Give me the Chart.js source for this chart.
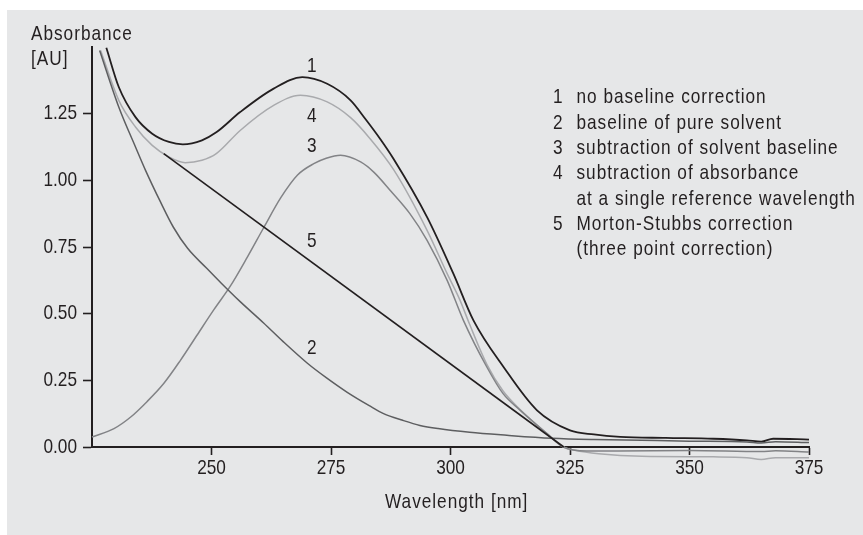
<!DOCTYPE html>
<html><head><meta charset="utf-8">
<script src="https://cdn.jsdelivr.net/npm/chart.js@4"></script>
<style>
html,body{margin:0;padding:0;background:#fff;}
#wrap{position:absolute;left:0;top:0;width:863px;height:535px;}
#panel{position:absolute;left:7px;top:10px;width:856px;height:525px;background:#e6e7e8;}
canvas{position:absolute;left:0;top:0;}
</style></head>
<body><div id="wrap"><div id="panel"></div><canvas id="c" width="863" height="535"></canvas></div>
<script>
// ---- data ----
const wl1 = [228,230.6,234.1,237.6,241.1,244,248,251,256,263,269,274.2,279.1,282.2,285.3,288.1,295.1,300.6,304.8,311.1,318.1,325,330,335.5,345,355,362,365,367.5,375];
const abs1 = [1.497,1.35,1.237,1.175,1.144,1.135,1.15,1.18,1.256,1.344,1.387,1.362,1.30,1.23,1.155,1.08,0.862,0.65,0.475,0.30,0.1375,0.0625,0.047,0.038,0.034,0.031,0.025,0.02,0.031,0.028];

const wl2 = [226.6,230.6,234.1,236.2,239.3,242,245,249,252,256,260.9,265,270,274,278.4,283,286,290,293.6,297.4,304,311.8,321.2,330,340,350,362,365,368,375];
const abs2 = [1.487,1.275,1.125,1.0375,0.92,0.825,0.745,0.67,0.615,0.545,0.465,0.395,0.315,0.26,0.205,0.155,0.125,0.10,0.081,0.069,0.055,0.044,0.033,0.028,0.025,0.022,0.019,0.015,0.02,0.0165];

const wl3 = [225,229.6,233.1,236.5,240,243.5,247,250.5,254,257.5,261,264.5,268,271.4,274,277,281.2,284,287.5,291.5,295.1,299.3,302.7,307.6,311,314.6,320.2,323.6,328.5,335,350,365,368,375];
const abs3 = [0.0375,0.069,0.1125,0.17,0.238,0.325,0.42,0.515,0.605,0.712,0.825,0.935,1.02,1.0625,1.083,1.094,1.069,1.03,0.96,0.875,0.775,0.625,0.475,0.30,0.20,0.1375,0.05,0.0,-0.015,-0.015,-0.013,-0.017,-0.014,-0.019];

const wl4 = [226.8,230.6,234.1,237.6,241.1,244.5,248,251,256,263,268.6,274.2,279.1,283,288.1,295.1,299.3,302,304,307.6,311,314.6,320.2,323.6,326,331,340,355,362,365,368,375];
const abs4 = [1.487,1.3,1.2,1.131,1.0875,1.066,1.075,1.1,1.187,1.281,1.319,1.294,1.235,1.16,1.04,0.8125,0.65,0.55,0.46,0.31,0.21,0.14,0.05,0.0,-0.012,-0.025,-0.035,-0.037,-0.04,-0.047,-0.04,-0.04];

const wl5 = [240, 323.7];
const abs5 = [1.10, 0.0];

const xTicks = [250, 275, 300, 325, 350, 375];
const yTicks = [0, 0.25, 0.5, 0.75, 1.0, 1.25];

const curveLabels = ['1', '4', '3', '5', '2'];
const labelWl = [270.96, 270.96, 270.96, 270.96, 270.96];
const labelAbs = [1.428, 1.241, 1.128, 0.772, 0.372];

const legendNums = ['1', '2', '3', '4', '', '5', ''];
const legendTexts = ['no baseline correction', 'baseline of pure solvent', 'subtraction of solvent baseline',
  'subtraction of absorbance', 'at a single reference wavelength', 'Morton-Stubbs correction', '(three point correction)'];

const yTitle = ['Absorbance', '[AU]'];
const xTitle = 'Wavelength [nm]';

// ---- styles ----
const INK = '#231f20';
const FONT = "'Liberation Sans', Arial, sans-serif";
const NARROW = 0.82; // condensed look
const toPts = (xs, ys) => xs.map((v, i) => ({x: v, y: ys[i]}));

function ds(label, xs, ys, color, w) {
  return {label, data: toPts(xs, ys), borderColor: color, borderWidth: w, pointRadius: 0,
    cubicInterpolationMode: 'monotone', fill: false, clip: false};
}

const canvas = document.getElementById('c');
const c2d = canvas.getContext('2d');
const origFill = c2d.fillText.bind(c2d);
c2d.fillText = function (text, x, y) {
  this.save();
  this.translate(x, y);
  this.scale(NARROW, 1);
  origFill(text, 0, 0);
  this.restore();
};

const textPlugin = {
  id: 'texts',
  afterDraw(chart) {
    const ctx = chart.ctx, sx = chart.scales.x, sy = chart.scales.y;
    ctx.save();
    ctx.fillStyle = INK;
    ctx.font = '21px ' + FONT;
    ctx.letterSpacing = '1.2px';
    ctx.textAlign = 'left';
    ctx.textBaseline = 'alphabetic';
    yTitle.forEach((t, i) => ctx.fillText(t, 31, 40 + i * 25));
    legendTexts.forEach((t, i) => {
      const by = 103.3 + i * 25.3;
      if (legendNums[i]) ctx.fillText(legendNums[i], 553, by);
      ctx.fillText(t, 576.5, by);
    });
    ctx.fillText(xTitle, 385, 508.3);
    ctx.letterSpacing = '0px';
    ctx.textAlign = 'center';
    ctx.textBaseline = 'middle';
    curveLabels.forEach((t, i) => ctx.fillText(t, sx.getPixelForValue(labelWl[i]), sy.getPixelForValue(labelAbs[i])));
    ctx.restore();
  }
};

new Chart(canvas, {
  type: 'line',
  data: {
    datasets: [
      ds('5', wl5, abs5, INK, 1.6),
      ds('2', wl2, abs2, '#5d5e60', 1.5),
      ds('3', wl3, abs3, '#828386', 1.5),
      ds('4', wl4, abs4, '#a9aaad', 1.5),
      ds('1', wl1, abs1, INK, 1.8)
    ]
  },
  options: {
    responsive: false,
    animation: false,
    layout: {padding: {left: 0, top: 47, right: 54, bottom: 0}},
    plugins: {legend: {display: false}, tooltip: {enabled: false}},
    scales: {
      x: {
        type: 'linear', min: 225, max: 375,
        afterBuildTicks: s => { s.ticks = xTicks.map(v => ({value: v})); },
        afterFit: s => { s.height = 88; },
        ticks: {color: INK, font: {family: FONT, size: 21}, padding: 1, maxRotation: 0, autoSkip: false,
          callback: v => String(v)},
        grid: {display: true, drawOnChartArea: false, drawTicks: true, tickLength: 8, tickWidth: 1.6, tickColor: INK},
        border: {display: true, color: INK, width: 2}
      },
      y: {
        type: 'linear', min: 0, max: 1.5,
        afterBuildTicks: s => { s.ticks = yTicks.map(v => ({value: v})); },
        afterFit: s => { s.width = 92; },
        ticks: {color: INK, font: {family: FONT, size: 21}, padding: 6, autoSkip: false,
          callback: v => v.toFixed(2)},
        grid: {display: true, drawOnChartArea: false, drawTicks: true, tickLength: 9, tickWidth: 1.6, tickColor: INK},
        border: {display: true, color: INK, width: 2}
      }
    }
  },
  plugins: [textPlugin]
});
</script>
</body></html>
